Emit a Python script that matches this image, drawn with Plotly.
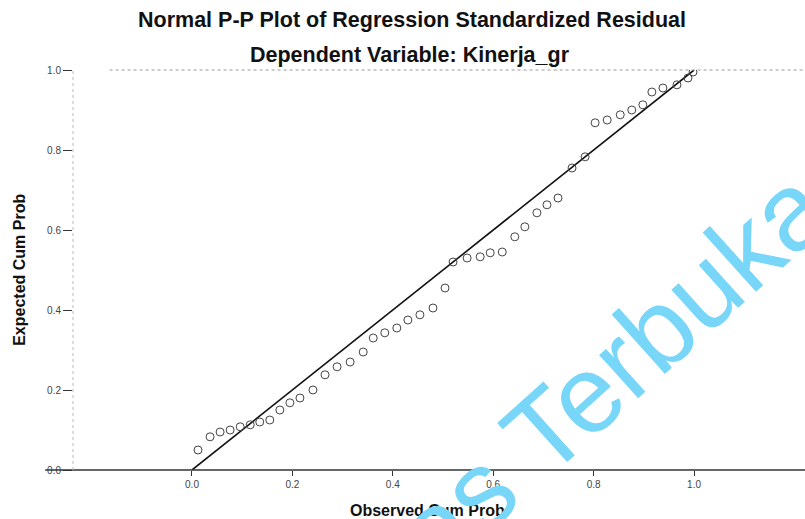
import plotly.graph_objects as go

# Observed vs. expected cumulative probabilities of the standardized residuals
observed_cum_prob = [
    0.012, 0.036, 0.056, 0.076, 0.096, 0.116, 0.135, 0.155, 0.175, 0.195,
    0.215, 0.241, 0.265, 0.289, 0.315, 0.341, 0.361, 0.384, 0.408, 0.430,
    0.454, 0.480, 0.504, 0.520, 0.548, 0.574, 0.594, 0.618, 0.643, 0.663,
    0.687, 0.707, 0.729, 0.757, 0.783, 0.803, 0.827, 0.853, 0.876, 0.898,
    0.916, 0.938, 0.966, 0.988, 0.998,
]
expected_cum_prob = [
    0.050, 0.083, 0.095, 0.100, 0.108, 0.113, 0.120, 0.125, 0.150, 0.168,
    0.180, 0.200, 0.238, 0.258, 0.270, 0.295, 0.330, 0.343, 0.355, 0.375,
    0.388, 0.405, 0.455, 0.520, 0.530, 0.533, 0.543, 0.545, 0.583, 0.608,
    0.643, 0.663, 0.680, 0.755, 0.783, 0.868, 0.875, 0.888, 0.900, 0.913,
    0.945, 0.955, 0.963, 0.980, 0.995,
]
ref_line = [0.0, 1.0]
tick_vals = [0.0, 0.2, 0.4, 0.6, 0.8, 1.0]
tick_text = ["0.0", "0.2", "0.4", "0.6", "0.8", "1.0"]

title_main = "Normal P-P Plot of Regression Standardized Residual"
title_sub = "Dependent Variable: Kinerja_gr"
x_title = "Observed Cum Prob"
y_title = "Expected Cum Prob"
watermark = "Universitas Terbuka"

fig = go.Figure()

# 45-degree reference line
fig.add_trace(go.Scatter(
    x=ref_line, y=ref_line, mode="lines",
    line=dict(color="#111111", width=1.6),
    hoverinfo="skip", showlegend=False,
))

# residual points
fig.add_trace(go.Scatter(
    x=observed_cum_prob, y=expected_cum_prob, mode="markers",
    marker=dict(symbol="circle-open", size=8, color="#444444",
                line=dict(width=1.0, color="#444444")),
    showlegend=False,
))

tick_font = dict(family="Liberation Sans, Arial, sans-serif", size=10, color="#444444")
title_font = dict(family="Liberation Sans, Arial, sans-serif", size=21.5, color="#111111")
axis_title_font = dict(family="Liberation Sans, Arial, sans-serif", size=16, color="#111111")

fig.update_layout(
    width=805, height=519,
    margin=dict(l=73, r=0, t=70, b=49),
    paper_bgcolor="white", plot_bgcolor="white",
    xaxis=dict(
        range=[-0.237, 1.221], showgrid=False, zeroline=False,
        showline=False, tickmode="array", tickvals=tick_vals, ticktext=tick_text,
        ticks="outside", ticklen=5, tickwidth=1, tickcolor="#333333",
        tickfont=tick_font,
    ),
    yaxis=dict(
        range=[0, 1], showgrid=False, zeroline=False,
        showline=False, tickmode="array", tickvals=tick_vals, ticktext=tick_text,
        ticks="outside", ticklen=9, tickwidth=1, tickcolor="#333333",
        tickfont=tick_font,
    ),
    shapes=[
        # bottom axis line
        dict(type="line", xref="paper", yref="paper", x0=-0.038, x1=1.0, y0=0, y1=0,
             line=dict(color="#333333", width=1.6)),
        # faint dotted left axis
        dict(type="line", xref="paper", yref="paper", x0=0, x1=0, y0=0, y1=1,
             line=dict(color="#bbbbbb", width=1, dash="dot")),
        # faint dotted top frame
        dict(type="line", xref="paper", yref="paper", x0=0.05, x1=1.0, y0=1, y1=1,
             line=dict(color="#999999", width=1, dash="dot")),
    ],
    annotations=[
        dict(text=f"<b>{title_main}</b>", xref="paper", yref="paper",
             x=0.463, y=1.125, xanchor="center", yanchor="middle",
             showarrow=False, font=title_font),
        dict(text=f"<b>{title_sub}</b>", xref="paper", yref="paper",
             x=0.460, y=1.0375, xanchor="center", yanchor="middle",
             showarrow=False, font=title_font),
        dict(text=f"<b>{x_title}</b>", xref="paper", yref="paper",
             x=0.484, y=-0.1, xanchor="center", yanchor="middle",
             showarrow=False, font=axis_title_font),
        dict(text=f"<b>{y_title}</b>", xref="paper", yref="paper",
             x=-0.074, y=0.5, xanchor="center", yanchor="middle",
             textangle=-90, showarrow=False, font=axis_title_font),
        # repository watermark
        dict(text=watermark, xref="paper", yref="paper",
             x=0.52, y=-0.107, xanchor="center", yanchor="middle",
             textangle=-42, showarrow=False,
             font=dict(family="Liberation Sans, Arial, sans-serif", size=110,
                       color="#78D6F8")),
    ],
)

fig.write_html("out.html")
